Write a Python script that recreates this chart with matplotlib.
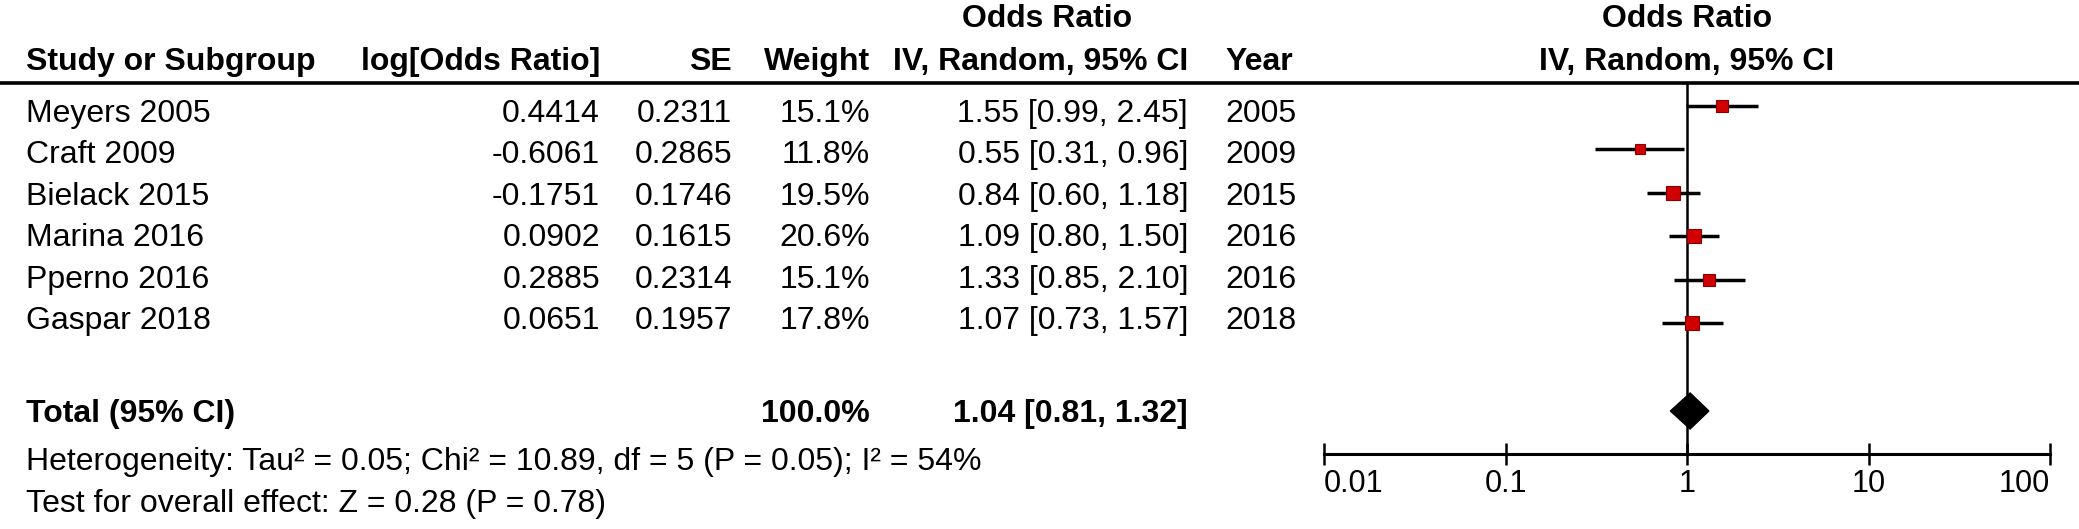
import matplotlib
matplotlib.use("Agg")
import matplotlib.pyplot as plt
import numpy as np

plt.rcParams['font.family'] = ['Liberation Sans', 'DejaVu Sans']

# ---------------- data ----------------
studies = ["Meyers 2005", "Craft 2009", "Bielack 2015", "Marina 2016", "Pperno 2016", "Gaspar 2018"]
log_or = ["0.4414", "-0.6061", "-0.1751", "0.0902", "0.2885", "0.0651"]
se = ["0.2311", "0.2865", "0.1746", "0.1615", "0.2314", "0.1957"]
weights = [15.1, 11.8, 19.5, 20.6, 15.1, 17.8]
odds = [1.55, 0.55, 0.84, 1.09, 1.33, 1.07]
ci_low = [0.99, 0.31, 0.60, 0.80, 0.85, 0.73]
ci_high = [2.45, 0.96, 1.18, 1.50, 2.10, 1.57]
years = ["2005", "2009", "2015", "2016", "2016", "2018"]
total_or, total_lo, total_hi = 1.04, 0.81, 1.32
total_weight = "100.0%"
heterogeneity = "Heterogeneity: Tau\u00b2 = 0.05; Chi\u00b2 = 10.89, df = 5 (P = 0.05); I\u00b2 = 54%"
overall = "Test for overall effect: Z = 0.28 (P = 0.78)"
axis_ticks = [0.01, 0.1, 1, 10, 100]
axis_ticklabels = ["0.01", "0.1", "1", "10", "100"]

# ---------------- layout (pixels) ----------------
W, H = 2079, 529
fig = plt.figure(figsize=(W / 100, H / 100), dpi=100)
ax = fig.add_axes([0, 0, 1, 1])
ax.set_xlim(0, W)
ax.set_ylim(H, 0)
ax.axis("off")

FS = 23
text_row0, text_row_h = 114, 41.4
mark_row0, mark_row_h = 106, 43.5
y_total_text = 414
y_total = 411
y_het, y_test = 462, 504
y_h1, y_h2 = 19, 62
line_y = 83
x_study, x_log, x_se, x_w, x_ci, x_year = 26, 600, 732, 870, 1188, 1225
x_orhead = 1047

axis_left, axis_right, axis_y = 1324, 2050, 454
forest_center = axis_left + (axis_right - axis_left) / 2

def t(x, y, s, ha="left", bold=False, size=FS):
    ax.text(x, y, s, ha=ha, va="center", fontsize=size,
            fontweight="bold" if bold else "normal", color="black")

# headers
t(x_orhead, y_h1, "Odds Ratio", ha="center", bold=True)
t(forest_center, y_h1, "Odds Ratio", ha="center", bold=True)
t(x_study, y_h2, "Study or Subgroup", bold=True)
t(x_log, y_h2, "log[Odds Ratio]", ha="right", bold=True)
t(x_se, y_h2, "SE", ha="right", bold=True)
t(x_w, y_h2, "Weight", ha="right", bold=True)
t(x_ci, y_h2, "IV, Random, 95% CI", ha="right", bold=True)
t(x_year, y_h2, "Year", bold=True)
t(forest_center, y_h2, "IV, Random, 95% CI", ha="center", bold=True)
ax.plot([0, W], [line_y, line_y], color="black", lw=2.6, solid_capstyle="butt")

# rows
text_y = [text_row0 + i * text_row_h for i in range(len(studies))]
for i, y in enumerate(text_y):
    t(x_study, y, studies[i])
    t(x_log, y, log_or[i], ha="right")
    t(x_se, y, se[i], ha="right")
    t(x_w, y, f"{weights[i]:.1f}%", ha="right")
    t(x_ci, y, f"{odds[i]:.2f} [{ci_low[i]:.2f}, {ci_high[i]:.2f}]", ha="right")
    t(x_year, y, years[i])

t(x_study, y_total_text, "Total (95% CI)", bold=True)
t(x_w, y_total_text, total_weight, ha="right", bold=True)
t(x_ci, y_total_text, f"{total_or:.2f} [{total_lo:.2f}, {total_hi:.2f}]", ha="right", bold=True)
t(x_study, y_het, heterogeneity)
t(x_study, y_test, overall)

# ---------------- forest axes ----------------
fx = fig.add_axes([axis_left / W, 1 - axis_y / H,
                   (axis_right - axis_left) / W, (axis_y - line_y) / H])
fx.set_xscale("log")
fx.set_xlim(axis_ticks[0], axis_ticks[-1])
fx.set_ylim(axis_y, line_y)
fx.patch.set_alpha(0)
for s in ["top", "left", "right"]:
    fx.spines[s].set_visible(False)
fx.spines["bottom"].set_linewidth(2.2)
fx.set_yticks([])
fx.set_xticks(axis_ticks)
fx.set_xticklabels(axis_ticklabels)
fx.xaxis.set_minor_locator(matplotlib.ticker.NullLocator())
fx.tick_params(axis="x", direction="inout", length=16, width=1.8, pad=3, labelsize=22)
labs = fx.get_xticklabels()
labs[0].set_ha("left")
labs[-1].set_ha("right")

fx.axvline(1, color="black", lw=1.8, zorder=1)

mark_y = [mark_row0 + i * mark_row_h for i in range(len(studies))]
for i, y in enumerate(mark_y):
    fx.plot([ci_low[i], ci_high[i]], [y, y], color="black", lw=2.5, zorder=2,
            solid_capstyle="butt")
    side = 3.1 * np.sqrt(weights[i]) * 0.72
    fx.plot([odds[i]], [y], marker="s", markersize=side, markerfacecolor="#d00000",
            markeredgecolor="#8a0000", markeredgewidth=0.8, zorder=3)

half_h = 18
fx.fill([total_lo, total_or, total_hi, total_or],
        [y_total, y_total - half_h, y_total, y_total + half_h],
        color="black", zorder=3)

fig.savefig("out.png", dpi=100)
